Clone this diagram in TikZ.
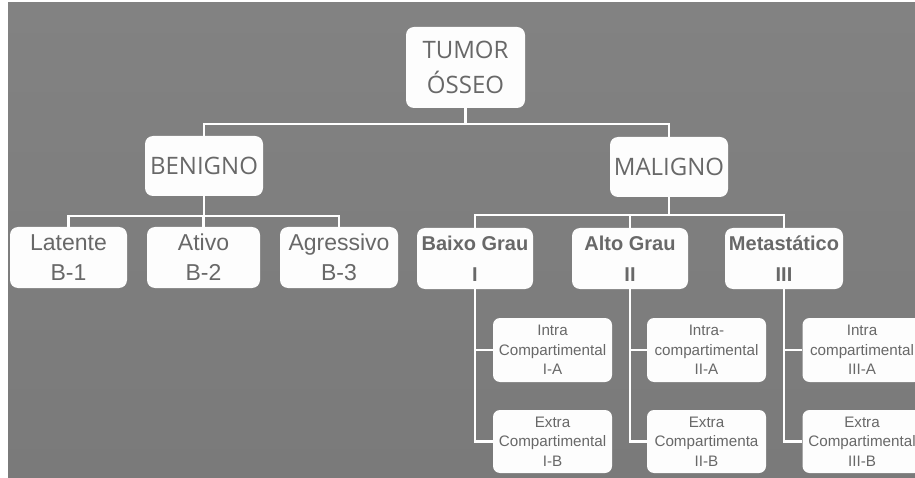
\documentclass[tikz,border=0pt]{standalone}
\usepackage{fontspec}
\setmainfont{Liberation Sans}
\newfontfamily\opensans{Open Sans}
\newfontfamily\libsans{Liberation Sans}
\definecolor{bgtop}{RGB}{130,130,130}
\definecolor{bgbot}{RGB}{122,122,122}
\definecolor{txt}{RGB}{104,104,104}
\definecolor{boxfill}{RGB}{253,253,253}
\tikzset{
  boxbase/.style={fill=boxfill, draw=none, rounded corners=8pt, inner sep=0pt, align=center, text=txt},
  rootbox/.style={boxbase, minimum width=119pt, minimum height=81pt, font=\opensans\fontsize{24}{35}\selectfont},
  midbox/.style={boxbase, minimum width=118pt, minimum height=60pt, font=\opensans\fontsize{24}{30}\selectfont},
  leafbox/.style={boxbase, minimum width=117pt, minimum height=61pt, font=\libsans\fontsize{23}{30}\selectfont},
  gradebox/.style={boxbase, minimum width=116pt, minimum height=61pt, font=\libsans\bfseries\fontsize{20}{31}\selectfont},
  subbox/.style={boxbase, rounded corners=7pt, minimum width=119pt, minimum height=64pt, font=\libsans\fontsize{15.2}{19.5}\selectfont},
  conn/.style={draw=white, line width=2.2pt}
}
\begin{document}
\begin{tikzpicture}[x=1pt,y=-1pt]
\useasboundingbox (0,0) rectangle (915,478);
\fill[white] (0,0) rectangle (915,478);
\begin{scope}
\clip (8,3) rectangle (915,478);
\shade[top color=bgtop, bottom color=bgbot] (8,3) rectangle (915,478);

% nodes
\node[rootbox] (root) at (465.5,67.5) {TUMOR\\ÓSSEO};
\node[midbox] (ben) at (204,166) {BENIGNO};
\node[midbox] (mal) at (669,167) {MALIGNO};

\node[leafbox] (lat) at (68.5,257.5) {Latente\\B-1};
\node[leafbox, minimum width=113pt] (ati) at (203.5,257.5) {Ativo\\B-2};
\node[leafbox, minimum width=118pt] (agr) at (339,257.5) {Agressivo\\B-3};

\node[gradebox] (baixo) at (475,258.5) {Baixo Grau\\I};
\node[gradebox] (alto) at (630,258.5) {Alto Grau\\II};
\node[gradebox, minimum width=118pt] (meta) at (784,258.5) {Metastático\\III};

\node[subbox] (ia) at (552.5,350) {Intra\\Compartimental\\I-A};
\node[subbox, minimum height=63pt] (ib) at (552.5,441.5) {Extra\\Compartimental\\I-B};
\node[subbox] (iia) at (706.5,350) {Intra-\\compartimental\\II-A};
\node[subbox, minimum height=63pt] (iib) at (706.5,441.5) {Extra\\Compartimenta\\II-B};
\node[subbox] (iiia) at (862,350) {Intra\\compartimental\\III-A};
\node[subbox, minimum height=63pt] (iiib) at (862,441.5) {Extra\\Compartimental\\III-B};

% junctions
\coordinate (j0) at (465.5,124);
\coordinate (j1) at (204,216);
\coordinate (j2) at (669,215);

% connectors
\draw[conn] (root.south) -- (j0);
\draw[conn] (ben.north) |- (j0) -| (mal.north);
\draw[conn] (ben.south) -- (j1);
\draw[conn] (lat.north) |- (j1) -| (agr.north);
\draw[conn] (ati.north) -- (ati.north |- j1);
\draw[conn] (mal.south) -- (j2);
\draw[conn] (baixo.north) |- (j2) -| (meta.north);
\draw[conn] (alto.north) -- (alto.north |- j2);

\draw[conn] (baixo.south) |- (ib.west);
\draw[conn] (baixo.south |- ia.west) -- (ia.west);
\draw[conn] (alto.south) |- (iib.west);
\draw[conn] (alto.south |- iia.west) -- (iia.west);
\draw[conn] (meta.south) |- (iiib.west);
\draw[conn] (meta.south |- iiia.west) -- (iiia.west);
\end{scope}
\end{tikzpicture}
\end{document}
